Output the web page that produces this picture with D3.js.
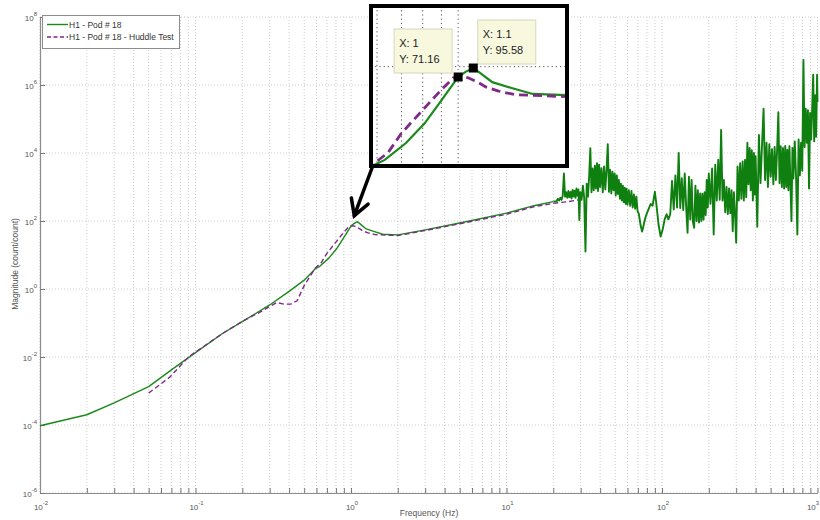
<!DOCTYPE html>
<html>
<head>
<meta charset="utf-8">
<script src="https://cdn.jsdelivr.net/npm/d3@7"></script>
<style>
  body { margin: 0; background: #fff; }
  text { font-family: "Liberation Sans", Arial, Helvetica, sans-serif; }
</style>
</head>
<body>
<svg id="chart" width="820" height="520"></svg>
<script>
// ---- Data -------------------------------------------------------------
// Series names shown in the legend
const seriesNames = ["H1 - Pod # 18", "H1 - Pod # 18 - Huddle Test"];

// H1 - Pod # 18, swept part: [frequency (Hz), magnitude (count/count)]
const podSwept = [
  [0.01, 9.5e-5], [0.02, 2.0e-4], [0.03, 4.47e-4], [0.05, 1.35e-3], [0.07, 4.17e-3],
  [0.1, 1.35e-2], [0.15, 0.050], [0.2, 0.110], [0.3, 0.339], [0.4, 0.85],
  [0.5, 1.82], [0.59, 3.94], [0.63, 4.65], [0.72, 8.1], [0.81, 15.5],
  [0.9, 33], [0.95, 49], [1.0, 71.16], [1.05, 85], [1.1, 95.58],
  [1.15, 81], [1.24, 60], [1.4, 49.5], [1.6, 40.7], [2.0, 39],
  [3.0, 55], [5.0, 87], [10, 170], [15, 282], [20, 372]
];

// H1 - Pod # 18, broadband part above 20 Hz: [frequency (Hz), magnitude]
const podBroadband = [
  [21, 380], [21.4, 450], [21.8, 400], [22.2, 480], [22.6, 420], [23, 560], [23.4, 2500], [23.8, 520],
  [24.2, 700], [24.6, 480], [25, 760], [25.4, 500], [25.8, 720], [26.2, 460], [26.6, 820], [27, 520],
  [27.4, 780], [27.8, 480], [28.2, 900], [28.6, 560], [29, 850], [29.4, 107], [29.8, 700], [30.4, 420],
  [31, 1100], [31.6, 480], [32.2, 12.6], [32.8, 1260], [33.4, 520], [34, 2000], [34.6, 13800], [35.2, 700],
  [35.8, 3500], [36.4, 800], [37, 4200], [37.6, 900], [38.2, 5000], [38.8, 760], [39.4, 4500], [40, 1000],
  [40.8, 3600], [41.6, 700], [42.4, 4000], [43.2, 850], [44, 3200], [44.8, 18200], [45.6, 720], [46.4, 3200],
  [47.2, 650], [48, 2800], [48.8, 800], [49.6, 2500], [50.4, 560], [51.2, 2200], [52, 630], [52.8, 1600],
  [53.6, 450], [54.4, 1260], [55.2, 400], [56, 1100], [56.8, 360], [57.6, 950], [58.4, 320], [59.2, 890],
  [60, 300], [61.2, 800], [62.4, 280], [63.6, 760], [64.8, 250], [66, 600], [67.2, 230], [68.4, 520],
  [69.6, 200], [71, 160], [73, 71], [74.5, 49], [76, 71], [78, 120], [80, 170], [82, 224],
  [84.5, 316], [87, 282], [90, 724], [92.5, 251], [95, 79], [98, 35], [101, 56], [104, 112],
  [107, 158], [110, 112], [113, 158],
  [116, 1500], [119, 220], [122, 2200], [125, 250], [128, 10000], [131, 240], [134, 1800], [137, 210],
  [140, 2500], [143, 260], [146, 45], [149, 2000], [152, 110], [155, 1600], [158, 95], [161, 63],
  [164, 1100], [167, 100], [170, 800], [173, 90], [176, 650], [179, 100], [182, 630], [185, 110],
  [188, 700], [191, 150], [194, 1600], [197, 250], [200, 2500], [205, 320], [210, 3500], [215, 40],
  [220, 4500], [225, 400], [230, 6300], [235, 420], [240, 47900], [245, 400], [250, 1600], [255, 180],
  [260, 1000], [265, 160], [270, 900], [275, 170], [280, 800], [285, 50], [290, 700], [295, 160],
  [300, 23], [306, 4000], [312, 400], [318, 5000], [324, 450], [330, 5600], [336, 400], [342, 6300],
  [348, 500], [354, 20000], [360, 1200], [366, 14000], [372, 800], [378, 12000], [384, 400], [390, 10000],
  [396, 600], [400, 8000], [410, 68], [420, 34000], [430, 1300], [440, 18000], [450, 200000], [460, 1600],
  [470, 20000], [480, 1000], [490, 18000], [500, 2000], [510, 13000], [520, 1200], [530, 15000], [540, 1600],
  [550, 12600], [560, 158000], [570, 1300], [580, 15800], [590, 1000], [600, 14000], [610, 900], [620, 16000],
  [630, 1000], [640, 12600], [650, 800], [660, 15800], [670, 1100], [680, 100], [690, 14000], [700, 1800],
  [714, 22000], [728, 2000], [742, 40], [756, 25000], [770, 2200], [784, 20000], [798, 3000], [812, 5.5e6],
  [826, 15000], [840, 200000], [854, 20000], [868, 180000], [882, 900], [896, 150000], [910, 25000], [924, 200000],
  [938, 2.0e6], [952, 22000], [966, 500000], [980, 30000], [994, 2.0e6], [1000, 316000]
];

// H1 - Pod # 18 - Huddle Test
const huddleFreq = [
  0.05, 0.0685, 0.09, 0.15, 0.2, 0.26, 0.333, 0.37, 0.41, 0.45, 0.5, 0.59, 0.643, 0.7, 0.8, 0.9,
  0.97, 1.02, 1.065, 1.13, 1.19, 1.29, 1.43, 2.0, 3, 5, 10, 15, 20, 25, 28.8
];
const huddleMag = [
  8.7e-4, 2.57e-3, 0.01, 0.05, 0.112, 0.209, 0.40, 0.36, 0.36, 0.45, 1.26, 4.17, 5.89, 11.2, 24, 46.8,
  69.2, 72.4, 69.2, 60.3, 51.3, 44.7, 39.8, 37.2, 52.5, 83, 158, 263, 331, 372, 417
];

// Data tips placed on the Pod # 18 trace
const tipX = [1, 1.1];
const tipY = [71.16, 95.58];

// Axis tick exponents (labels read 10^n)
const xTickExps = [-2, -1, 0, 1, 2, 3];
const yTickExps = [-6, -4, -2, 0, 2, 4, 6, 8];

const xLabel = "Frequency (Hz)";
const yLabel = "Magnitude (count/count)";

// ---- Setup ------------------------------------------------------------
const GREEN = "#1a8a1a";
const GREEN_DENSE = "#0f7f0f";
const PURPLE = "#7e2a88";
const GRID = "#cdcdcd";
const AXIS = "#8c8c8c";
const LABEL = "#555";

const svg = d3.select("#chart");
const plot = { left: 40, right: 817.5, top: 17, bottom: 493 };

const x = d3.scaleLog().domain([1e-2, 1e3]).range([plot.left, plot.right]);
const y = d3.scaleLog().domain([1e-6, 1e8]).range([plot.bottom, plot.top]);

const podData = podSwept.concat(podBroadband);
const podTail = [podSwept[podSwept.length - 1]].concat(podBroadband);
const huddleData = huddleFreq.map((f, i) => [f, huddleMag[i]]);

const xAll = x.ticks();                       // 1..9 x 10^n
const yMajor = yTickExps.map(e => Math.pow(10, e));
const xMajor = xTickExps.map(e => Math.pow(10, e));

// ---- Grid -------------------------------------------------------------
const grid = svg.append("g").attr("class", "grid");
grid.selectAll("line.gx").data(xAll).join("line").attr("class", "gx")
  .attr("x1", d => x(d)).attr("x2", d => x(d))
  .attr("y1", plot.top).attr("y2", plot.bottom)
  .attr("stroke", GRID).attr("stroke-width", 1).attr("stroke-dasharray", "1,2");
grid.selectAll("line.gy").data(yMajor).join("line").attr("class", "gy")
  .attr("x1", plot.left).attr("x2", plot.right)
  .attr("y1", d => y(d)).attr("y2", d => y(d))
  .attr("stroke", GRID).attr("stroke-width", 1).attr("stroke-dasharray", "1,2");

// ---- Axes -------------------------------------------------------------
const gx = svg.append("g").attr("transform", `translate(0,${plot.bottom})`)
  .call(d3.axisBottom(x).tickValues(xAll).tickSizeInner(-5).tickSizeOuter(0).tickFormat(() => ""));
const gy = svg.append("g").attr("transform", `translate(${plot.left},0)`)
  .call(d3.axisLeft(y).tickValues(yMajor).tickSizeInner(-5).tickSizeOuter(0).tickFormat(() => ""));
[gx, gy].forEach(g => {
  g.select(".domain").attr("stroke", AXIS).attr("stroke-width", 1.2);
  g.selectAll(".tick line").attr("stroke", "#777");
});

function powerLabel(sel, exp) {
  sel.append("tspan").text("10");
  sel.append("tspan").attr("font-size", 6).attr("dy", -5).text(exp);
}
xTickExps.forEach((e, i) => {
  const t = svg.append("text")
    .attr("x", Math.min(x(xMajor[i]) + 1, 813)).attr("y", 510)
    .attr("text-anchor", "middle").attr("font-size", 8).attr("fill", LABEL);
  powerLabel(t, e);
});
yTickExps.forEach((e, i) => {
  const t = svg.append("text")
    .attr("x", 37).attr("y", y(yMajor[i]) + 4)
    .attr("text-anchor", "end").attr("font-size", 8).attr("fill", LABEL);
  powerLabel(t, e);
});

svg.append("text").attr("x", 429).attr("y", 516).attr("text-anchor", "middle")
  .attr("font-size", 8.5).attr("fill", LABEL).text(xLabel);
svg.append("text").attr("transform", "translate(17.5,264) rotate(-90)")
  .attr("text-anchor", "middle").attr("font-size", 8.5).attr("fill", LABEL).text(yLabel);

// ---- Traces -----------------------------------------------------------
const line = d3.line().x(d => x(d[0])).y(d => y(d[1]));
svg.append("path").datum(podSwept).attr("d", line)
  .attr("fill", "none").attr("stroke", GREEN).attr("stroke-width", 1.4)
  .attr("stroke-linejoin", "round");
// the dense broadband stretch reads as a heavier band
svg.append("path").datum(podTail).attr("d", line)
  .attr("fill", "none").attr("stroke", GREEN_DENSE).attr("stroke-width", 1.9)
  .attr("stroke-linejoin", "round");
svg.append("path").datum(huddleData).attr("d", line)
  .attr("fill", "none").attr("stroke", PURPLE).attr("stroke-width", 1.4)
  .attr("stroke-dasharray", "5,3");

// ---- Legend -----------------------------------------------------------
const lg = svg.append("g");
lg.append("rect").attr("x", 42.5).attr("y", 15.5).attr("width", 137).attr("height", 33)
  .attr("fill", "#fff").attr("stroke", AXIS);
const legendRows = [
  { name: seriesNames[0], color: GREEN, dash: null, y: 24.5 },
  { name: seriesNames[1], color: PURPLE, dash: "4,2.5", y: 37 }
];
legendRows.forEach(r => {
  lg.append("line").attr("x1", 47).attr("x2", 68).attr("y1", r.y).attr("y2", r.y)
    .attr("stroke", r.color).attr("stroke-width", 1.4).attr("stroke-dasharray", r.dash);
  lg.append("text").attr("x", 69).attr("y", r.y + 3).attr("font-size", 8.5)
    .attr("fill", "#333").text(r.name);
});

// ---- Zoomed inset around the resonance --------------------------------
const box = { x: 371, y: 6, w: 196, h: 160 };
const ix = d3.scaleLog().domain([0.585, 1.96]).range([373, 565]);
const iy = d3.scaleLog().domain([3.93, 689]).range([165, 8]);
const inset = svg.append("g");
inset.append("rect").attr("x", box.x).attr("y", box.y).attr("width", box.w).attr("height", box.h)
  .attr("fill", "#fff");
svg.append("defs").append("clipPath").attr("id", "insetClip")
  .append("rect").attr("x", box.x).attr("y", box.y).attr("width", box.w).attr("height", box.h);
const ic = inset.append("g").attr("clip-path", "url(#insetClip)");
ic.selectAll("line.igx").data(ix.ticks()).join("line").attr("class", "igx")
  .attr("x1", d => ix(d)).attr("x2", d => ix(d)).attr("y1", box.y).attr("y2", box.y + box.h)
  .attr("stroke", "#555").attr("stroke-dasharray", "1.2,3");
ic.selectAll("line.igy").data(yMajor.filter(v => v > iy.domain()[0] && v < iy.domain()[1]))
  .join("line").attr("class", "igy")
  .attr("x1", box.x).attr("x2", box.x + box.w).attr("y1", d => iy(d)).attr("y2", d => iy(d))
  .attr("stroke", "#555").attr("stroke-dasharray", "1.2,3");
const iline = d3.line().x(d => ix(d[0])).y(d => iy(d[1]));
ic.append("path").datum(podData).attr("d", iline)
  .attr("fill", "none").attr("stroke", GREEN).attr("stroke-width", 2.2);
ic.append("path").datum(huddleData).attr("d", iline)
  .attr("fill", "none").attr("stroke", PURPLE).attr("stroke-width", 2.8)
  .attr("stroke-dasharray", "9,5");

// data tips
tipX.forEach((fx, i) => {
  const mx = ix(fx), my = iy(tipY[i]);
  const bx = i === 0 ? mx - 64 : mx + 4.5;
  const by = my - 48;
  inset.append("rect").attr("x", bx).attr("y", by).attr("width", 58).attr("height", 44)
    .attr("fill", "#f8f8de").attr("stroke", "#d6d6b8");
  inset.append("text").attr("x", bx + 5).attr("y", by + 18).attr("font-size", 11)
    .attr("fill", "#222").text(`X: ${fx}`);
  inset.append("text").attr("x", bx + 5).attr("y", by + 34).attr("font-size", 11)
    .attr("fill", "#222").text(`Y: ${tipY[i]}`);
  inset.append("rect").attr("x", mx - 4.5).attr("y", my - 4.5).attr("width", 9).attr("height", 9)
    .attr("fill", "#000");
});

inset.append("rect").attr("x", box.x).attr("y", box.y).attr("width", box.w).attr("height", box.h)
  .attr("fill", "none").attr("stroke", "#000").attr("stroke-width", 4);

// ---- Arrow from inset to the peak ------------------------------------
const tip = [x(1.05), y(tipY[1]) - 6];
const tail = [372, box.y + box.h + 2];
const ang = Math.atan2(tail[1] - tip[1], tail[0] - tip[0]);
const wing = a => [tip[0] + 18 * Math.cos(ang + a), tip[1] + 18 * Math.sin(ang + a)];
svg.append("path")
  .attr("d", d3.line()([tail, tip]))
  .attr("stroke", "#000").attr("stroke-width", 3.5).attr("stroke-linecap", "round").attr("fill", "none");
svg.append("path")
  .attr("d", d3.line()([wing(0.52), tip, wing(-0.52)]))
  .attr("stroke", "#000").attr("stroke-width", 3.5).attr("stroke-linecap", "round")
  .attr("stroke-linejoin", "miter").attr("fill", "none");
</script>
</body>
</html>
